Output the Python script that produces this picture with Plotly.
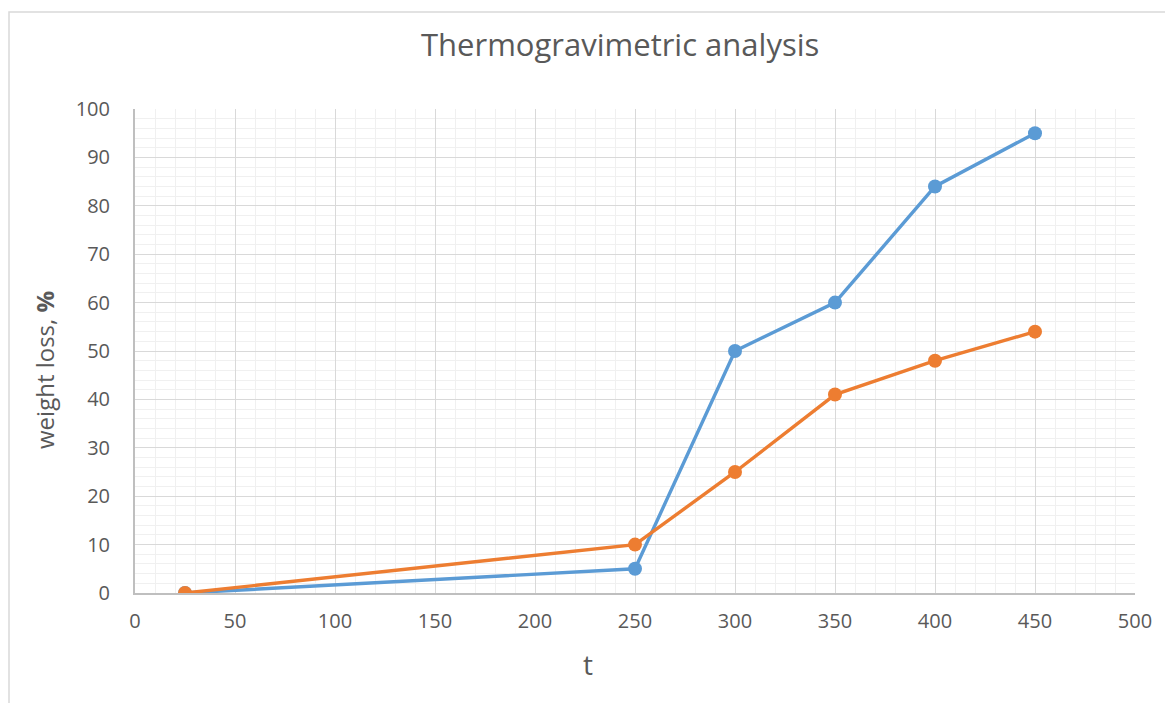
import plotly.graph_objects as go

t_values = [25, 250, 300, 350, 400, 450]
series_blue = [0, 5, 50, 60, 84, 95]
series_orange = [0, 10, 25, 41, 48, 54]

FONT = "Open Sans"
TXT = "#595959"

fig = go.Figure()
fig.add_trace(go.Scatter(x=t_values, y=series_blue, mode="lines+markers",
                         line=dict(color="#5B9BD5", width=3.4),
                         marker=dict(color="#5B9BD5", size=14), showlegend=False))
fig.add_trace(go.Scatter(x=t_values, y=series_orange, mode="lines+markers",
                         line=dict(color="#ED7D31", width=3.4),
                         marker=dict(color="#ED7D31", size=14), showlegend=False))

fig.update_layout(
    width=1165, height=703,
    margin=dict(l=135, r=30, t=109, b=110),
    paper_bgcolor="white", plot_bgcolor="white",
    font=dict(family=FONT, color=TXT, size=20),
    xaxis=dict(range=[0, 500], dtick=50, showgrid=True, gridcolor="#d9d9d9", gridwidth=1.3,
               minor=dict(dtick=10, showgrid=True, gridcolor="#f0f0f0", gridwidth=1.3),
               showline=True, linecolor="#bfbfbf", linewidth=2, zeroline=False,
               ticks="", tickfont=dict(size=20, color=TXT, family=FONT), ticklabelstandoff=9),
    yaxis=dict(range=[0, 100], dtick=10, showgrid=True, gridcolor="#d9d9d9", gridwidth=1.3,
               minor=dict(dtick=2, showgrid=True, gridcolor="#f0f0f0", gridwidth=1.3),
               showline=True, linecolor="#bfbfbf", linewidth=2, zeroline=False,
               ticks="", tickfont=dict(size=20, color=TXT, family=FONT), ticklabelstandoff=19),
    shapes=[dict(type="rect", xref="paper", yref="paper",
                 x0=(9 - 135) / 1000, x1=(1175 - 135) / 1000,
                 y0=(593 - 715) / 484, y1=(593 - 12) / 484,
                 line=dict(color="#d9d9d9", width=1.5), fillcolor="rgba(0,0,0,0)", layer="below")],
    annotations=[
        dict(text="Thermogravimetric analysis", xref="paper", yref="paper",
             x=(620 - 135) / 1000, y=(593 - 44) / 484, showarrow=False,
             font=dict(size=31, color=TXT, family=FONT), xanchor="center", yanchor="middle"),
        dict(text="t", xref="paper", yref="paper",
             x=(588 - 135) / 1000, y=(593 - 664) / 484, showarrow=False,
             font=dict(size=28, color=TXT, family=FONT), xanchor="center", yanchor="middle"),
        dict(text="weight loss, <b>%</b>", xref="paper", yref="paper",
             x=(45 - 135) / 1000, y=(593 - 370) / 484, showarrow=False, textangle=-90,
             font=dict(size=24, color=TXT, family=FONT), xanchor="center", yanchor="middle"),
    ],
)

fig.write_html("out.html")
